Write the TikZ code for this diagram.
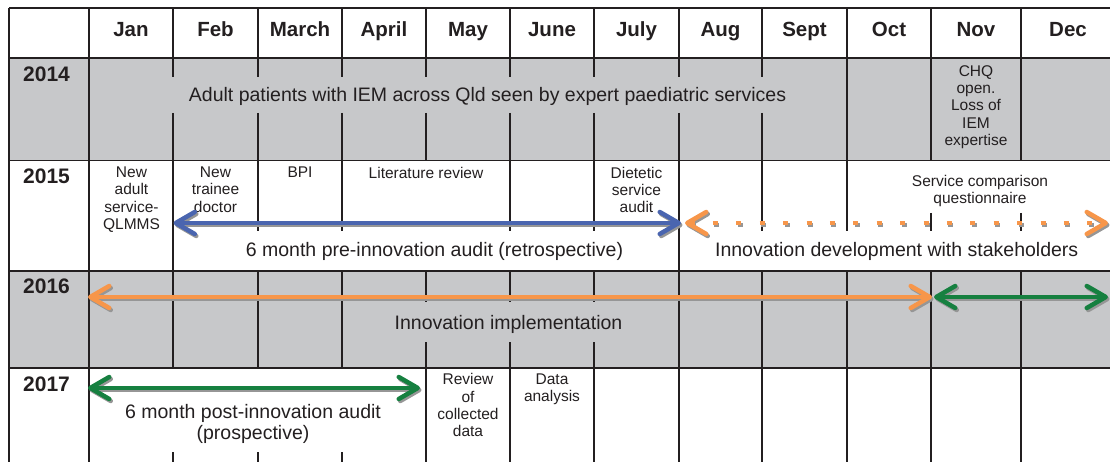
\documentclass[tikz,border=0pt]{standalone}
\usepackage{fontspec}
\setmainfont{Liberation Sans}
\usetikzlibrary{arrows.meta}
\definecolor{ink}{RGB}{35,31,32}
\definecolor{rowgray}{RGB}{199,200,202}
\definecolor{arrblue}{RGB}{74,101,175}
\definecolor{arrorange}{RGB}{247,150,74}
\definecolor{arrgreen}{RGB}{22,128,64}
\definecolor{shadowgray}{RGB}{150,150,150}
\newcommand{\tlarrow}[4]{%
  \draw[#1,draw=shadowgray,transform canvas={shift={(1.5,2)}}] (#3) -- (#4);
  \draw[#1,draw=#2] (#3) -- (#4);}
\begin{document}
\begin{tikzpicture}[x=1pt,y=-1pt,
  >={Straight Barb[length=19pt,width=22pt,round]},
  hl/.style={draw=ink,line width=1.8pt},
  month/.style={font=\fontsize{20.5}{22}\selectfont\bfseries,text=ink,inner sep=0pt,anchor=base},
  year/.style={font=\fontsize{21}{22}\selectfont\bfseries,text=ink,inner sep=0pt,anchor=base west},
  small/.style={font=\fontsize{15.5}{17.4}\selectfont,text=ink,align=center,inner sep=0pt,anchor=north},
  big/.style={font=\fontsize{19.5}{21.5}\selectfont,text=ink,align=center,inner sep=0pt,anchor=base},
  tarr/.style={line width=4.5pt,line cap=round,<->},
  tarrdot/.style={line width=4.5pt,line cap=butt,dash pattern=on 5pt off 18.4pt,<->},
]
\useasboundingbox (0,0) rectangle (1110,462);
% row fills
\fill[rowgray] (9,58) rectangle (1112,160.5);
\fill[rowgray] (9,271) rectangle (1112,368);
% horizontal lines
\foreach \y in {8,58,160.5,271,368} \draw[hl] (9,\y) -- (1112,\y);
% vertical lines
\draw[ink,line width=1.6pt] (9,8) -- (9,463) (89,8) -- (89,463);
\draw[ink,line width=1.5pt] (173,8)--(173,77) (173,113)--(173,368) (173,452)--(173,463);
\foreach \x in {258,342}
  \draw[ink,line width=1.5pt] (\x,8)--(\x,77) (\x,113)--(\x,231) (\x,271)--(\x,368) (\x,452)--(\x,463);
\draw[ink,line width=1.1pt] (426,8)--(426,77) (426,113)--(426,160.5) (426,271)--(426,302) (426,342)--(426,463);
\draw[ink,line width=1.6pt] (510,8)--(510,77) (510,113)--(510,231) (510,271)--(510,302) (510,342)--(510,463);
\draw[ink,line width=1.1pt] (594,8)--(594,77) (594,113)--(594,231) (594,271)--(594,302) (594,342)--(594,463);
\draw[ink,line width=1.2pt] (679,8)--(679,77) (679,113)--(679,463);
\draw[ink,line width=1.5pt] (762,8)--(762,77) (762,113)--(762,231) (762,271)--(762,463);
\draw[ink,line width=1.1pt] (847,8)--(847,231) (847,271)--(847,463);
\foreach \x in {931,1021}
  \draw[ink,line width=1.6pt] (\x,8)--(\x,160.5) (\x,213)--(\x,231) (\x,271)--(\x,463);
% header
\node[month] (jan) at (131,36.5) {Jan};
\node[month] (feb) at (215.5,36.5) {Feb};
\node[month] (mar) at (300,36.5) {March};
\node[month] (apr) at (384,36.5) {April};
\node[month] (may) at (468,36.5) {May};
\node[month] (jun) at (552,36.5) {June};
\node[month] (jul) at (636.5,36.5) {July};
\node[month] (aug) at (720.5,36.5) {Aug};
\node[month] (sep) at (804.5,36.5) {Sept};
\node[month] (oct) at (889,36.5) {Oct};
\node[month] (nov) at (976,36.5) {Nov};
\node[month] (dec) at (1068,36.5) {Dec};
% years
\node[year] (y14) at (23,81.7) {2014};
\node[year] (y15) at (23,183.3) {2015};
\node[year] (y16) at (23,293.3) {2016};
\node[year] (y17) at (23,391.7) {2017};
% 2014
\node[big] (adult) at (487.5,101.7) {Adult patients with IEM across Qld seen by expert paediatric services};
\node[small] (chq) at (976,65) {CHQ\\open.\\Loss of\\IEM\\expertise};
% 2015
\node[small] (qlmms) at (131.5,166.7) {New\\adult\\service-\\QLMMS};
\node[small] (trainee) at (215.5,166.7) {New\\trainee\\doctor};
\node[small] (bpi) at (300,166.7) {BPI};
\node[small] (lit) at (426,166.7) {Literature review};
\node[small] (diet) at (636.5,166.7) {Dietetic\\service\\audit};
\node[small] (scq) at (980,175) {Service comparison\\questionnaire};
\node[big] (pre) at (434.5,256.7) {6 month pre-innovation audit (retrospective)};
\node[big] (dev) at (896.7,256.7) {Innovation development with stakeholders};
% 2016
\node[big] (impl) at (508.5,329) {Innovation implementation};
% 2017
\node[big,anchor=north] (post) at (253,404) {6 month post-innovation audit\\(prospective)};
\node[small] (review) at (468,373.3) {Review\\of\\collected\\data};
\node[small] (data) at (552,373.3) {Data\\analysis};
% arrow end points
\coordinate (b1) at (173.5,223);
\coordinate (b2) at (681,223);
\coordinate (o1) at (685,223);
\coordinate (o2) at (1108,223);
\coordinate (p1) at (88,297);
\coordinate (p2) at (932,297);
\coordinate (g1) at (934,297);
\coordinate (g2) at (1108,297);
\coordinate (h1) at (88,388);
\coordinate (h2) at (420,388);
\tlarrow{tarr}{arrblue}{b1}{b2}
\tlarrow{tarrdot}{arrorange}{o1}{o2}
\tlarrow{tarr}{arrorange}{p1}{p2}
\tlarrow{tarr}{arrgreen}{g1}{g2}
\tlarrow{tarr}{arrgreen}{h1}{h2}
\end{tikzpicture}
\end{document}
